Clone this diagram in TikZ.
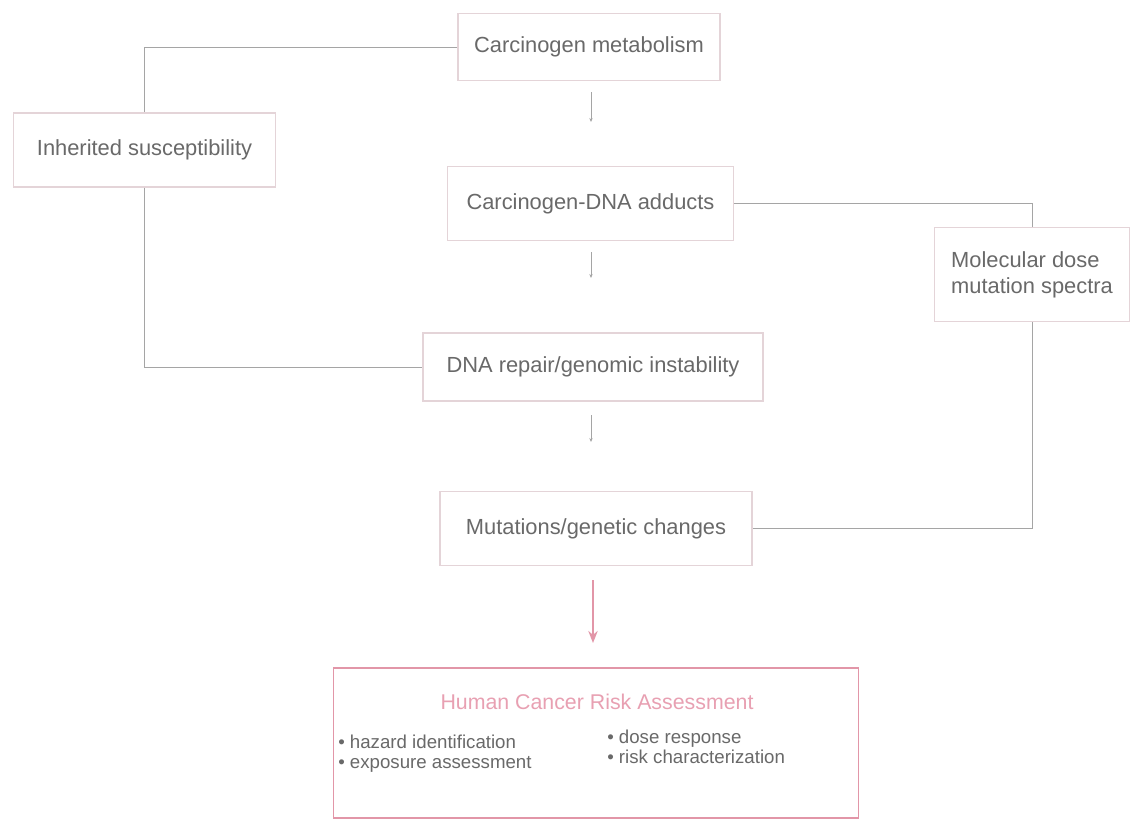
\documentclass[tikz,border=0pt]{standalone}
\usepackage{fontspec}
\setmainfont{Liberation Sans}
\usetikzlibrary{arrows.meta}
\definecolor{txt}{RGB}{105,105,105}
\definecolor{boxline}{RGB}{228,212,216}
\definecolor{conn}{RGB}{165,165,165}
\definecolor{pinkline}{RGB}{226,150,168}
\definecolor{pinktxt}{RGB}{232,160,178}
\tikzset{
  stage/.style={draw=boxline, line width=0.9pt, fill=white, text=txt, align=center,
    font=\fontsize{16.4pt}{19.5pt}\selectfont, inner sep=0pt},
  link/.style={draw=conn, line width=0.7pt},
  smallarrow/.style={draw=conn, line width=0.7pt, -{Stealth[length=3pt,width=2.5pt]}},
  bigarrow/.style={draw=pinkline, line width=1.6pt, -{Stealth[length=9pt,width=7pt]}},
  bullettext/.style={text=txt, align=left, anchor=north west, inner sep=0pt,
    font=\fontsize{14pt}{15pt}\selectfont}
}
\begin{document}
\begin{tikzpicture}[x=0.75pt,y=-0.75pt]
\useasboundingbox[fill=white] (0,0) rectangle (1135,832);
\node[stage, minimum width=196.5pt, minimum height=50pt] (cm) at (589,47) {Carcinogen metabolism};
\node[stage, minimum width=197pt, minimum height=55.5pt] (inh) at (144.5,150) {Inherited susceptibility};
\node[stage, minimum width=215pt, minimum height=55pt] (add) at (590.5,203.5) {Carcinogen-DNA adducts};
\node[stage, minimum width=146pt, minimum height=71pt, align=left] (mol) at (1032,274.5) {Molecular dose\\mutation spectra};
\node[stage, minimum width=255pt, minimum height=51pt] (dna) at (593,367) {DNA repair/genomic instability};
\node[stage, minimum width=234pt, minimum height=55pt] (mut) at (596,528.5) {Mutations/genetic changes};
\node[draw=pinkline, line width=1.0pt, fill=white, minimum width=394pt, minimum height=112.5pt, inner sep=0pt] (hum) at (596,743) {};
\node[text=pinktxt, font=\fontsize{16pt}{19pt}\selectfont, inner sep=0pt] (humt) at (597,702) {Human Cancer Risk Assessment};
\node[bullettext] (bl) at (338,735) {\textbullet\ hazard identification\\\textbullet\ exposure assessment};
\node[bullettext] (br) at (607,730) {\textbullet\ dose response\\\textbullet\ risk characterization};

\draw[link] (cm.west) -| (inh.north);
\draw[link] (inh.south) |- (dna.west);
\draw[link] (add.east) -| (mol.north);
\draw[link] (mol.south) |- (mut.east);

\coordinate (a1s) at (591,92);
\coordinate (a1e) at (591,122);
\coordinate (a2s) at (591,252);
\coordinate (a2e) at (591,278);
\coordinate (a3s) at (591,415);
\coordinate (a3e) at (591,442);
\draw[smallarrow] (a1s) -- (a1e);
\draw[smallarrow] (a2s) -- (a2e);
\draw[smallarrow] (a3s) -- (a3e);
\coordinate (r1) at (593,580);
\coordinate (r2) at (593,643);
\draw[bigarrow] (r1) -- (r2);
\end{tikzpicture}
\end{document}
